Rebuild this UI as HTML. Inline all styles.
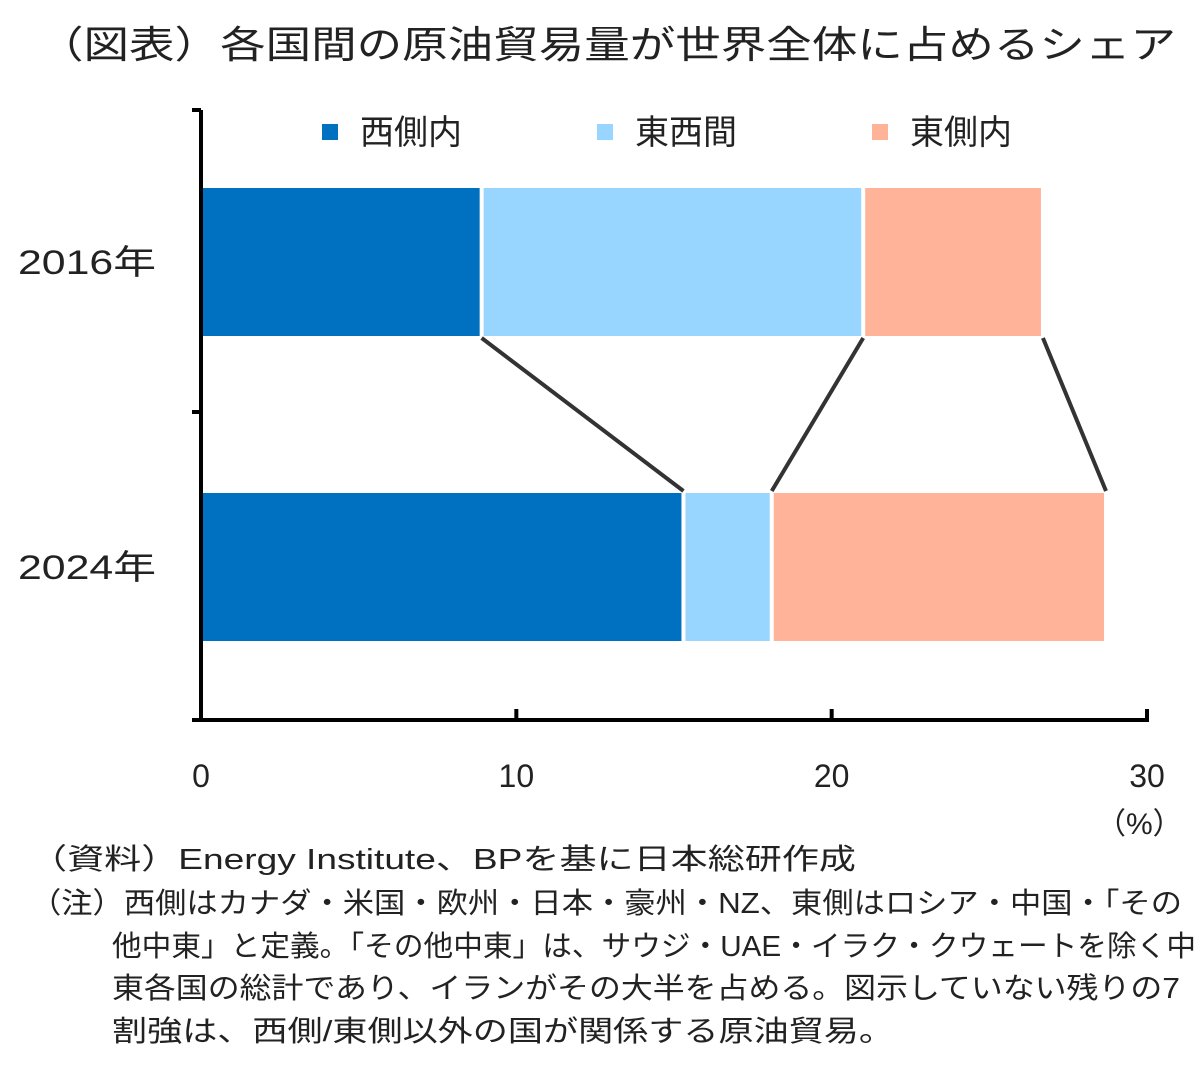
<!DOCTYPE html>
<html><head><meta charset="utf-8"><style>
html,body{margin:0;padding:0;background:#fff;}
svg{display:block;font-family:"Liberation Sans","Noto Sans CJK JP",sans-serif;}
</style></head><body>
<svg id="chart" width="1200" height="1069" viewBox="0 0 1200 1069" xmlns="http://www.w3.org/2000/svg">
<text x="38" y="58" font-size="38" fill="#222" textLength="1138" lengthAdjust="spacingAndGlyphs">（図表）各国間の原油貿易量が世界全体に占めるシェア</text>
<g id="legend"></g>
<g id="bars"></g>
<g id="connectors"></g>
<g id="axes"></g>
<text x="1096" y="834" font-size="30" fill="#222">（%）</text>
<g font-size="29" fill="#222">
<text x="30" y="869" textLength="826" lengthAdjust="spacingAndGlyphs">（資料）Energy Institute、BPを基に日本総研作成</text>
<text x="30" y="913" textLength="1152" lengthAdjust="spacingAndGlyphs">（注）西側はカナダ・米国・欧州・日本・豪州・NZ、東側はロシア・中国・「その</text>
<text x="112" y="956" textLength="1084" lengthAdjust="spacingAndGlyphs">他中東」と定義。「その他中東」は、サウジ・UAE・イラク・クウェートを除く中</text>
<text x="112" y="998" textLength="1068" lengthAdjust="spacingAndGlyphs">東各国の総計であり、イランがその大半を占める。図示していない残りの7</text>
<text x="112" y="1041" textLength="782" lengthAdjust="spacingAndGlyphs">割強は、西側/東側以外の国が関係する原油貿易。</text>
</g>
</svg>
<script>
const categories = ["2016年", "2024年"];
const seriesNames = ["西側内", "東西間", "東側内"];
const westIntra = [8.9, 15.3];
const eastWest = [12.1, 2.8];
const eastIntra = [5.7, 10.6];
const xTicks = [0, 10, 20, 30];

const NS = "http://www.w3.org/2000/svg";
const colors = ["#0070c0", "#99d6ff", "#ffb499"];
const x0 = 201, x1 = 1147, xMax = 30;
const xs = v => x0 + v / xMax * (x1 - x0);
const catY = [262, 567], barH = 148;
const series = [westIntra, eastWest, eastIntra];
function mk(tag, attrs, parent) { const e = document.createElementNS(NS, tag); for (const k in attrs) e.setAttribute(k, attrs[k]); parent.appendChild(e); return e; }

const bars = document.getElementById("bars");
const ends = [];
categories.forEach((c, i) => {
  let acc = 0; ends.push([]);
  series.forEach((s, j) => {
    const a = xs(acc), b = xs(acc + s[i]);
    const r = mk("rect", { x: a + (j ? 2 : 0), y: catY[i] - barH / 2, width: Math.max(0, b - a - (j ? 2 : 0) - 2), height: barH, fill: colors[j] }, bars);
    
    
    acc += s[i]; ends[i].push(b);
  });
});
const conn = document.getElementById("connectors");
for (let j = 0; j < 3; j++) {
  const l = mk("line", { x1: ends[0][j], y1: catY[0] + barH / 2 + 2, x2: ends[1][j], y2: catY[1] - barH / 2 - 2, stroke: "#333", "stroke-width": 4 }, conn);
  
  
}
const axes = document.getElementById("axes");
const ya = mk("line", { x1: x0, y1: 110, x2: x0, y2: 720, stroke: "#000", "stroke-width": 4 }, axes);


[110, 412, 720].forEach(y => {
  const t = mk("line", { x1: 192, y1: y, x2: x0, y2: y, stroke: "#000", "stroke-width": 4 }, axes);
  
  
});
const xa = mk("line", { x1: x0 - 2, y1: 720, x2: x1 + 2, y2: 720, stroke: "#000", "stroke-width": 4 }, axes);


xTicks.forEach(v => {
  if (v > 0) {
    const t = mk("line", { x1: xs(v), y1: 709, x2: xs(v), y2: 720, stroke: "#000", "stroke-width": 4 }, axes);
    
    
  }
  const tx = mk("text", { x: xs(v), y: 787, "font-size": 32, fill: "#222", "text-anchor": "middle" }, axes);
  tx.textContent = v;
  
  
});
categories.forEach((c, i) => {
  const t = mk("text", { x: 18, y: catY[i] + 12, "font-size": 34, fill: "#222", textLength: 138, lengthAdjust: "spacingAndGlyphs" }, axes);
  t.textContent = c;
  
  
});
const legend = document.getElementById("legend");
const lx = [322, 597, 872];
seriesNames.forEach((n, j) => {
  const r = mk("rect", { x: lx[j], y: 124, width: 16, height: 16, fill: colors[j] }, legend);
  
  
  const t = mk("text", { x: lx[j] + 38, y: 144, "font-size": 34, fill: "#222" }, legend);
  t.textContent = n;
  
  
});
</script>
</body></html>
